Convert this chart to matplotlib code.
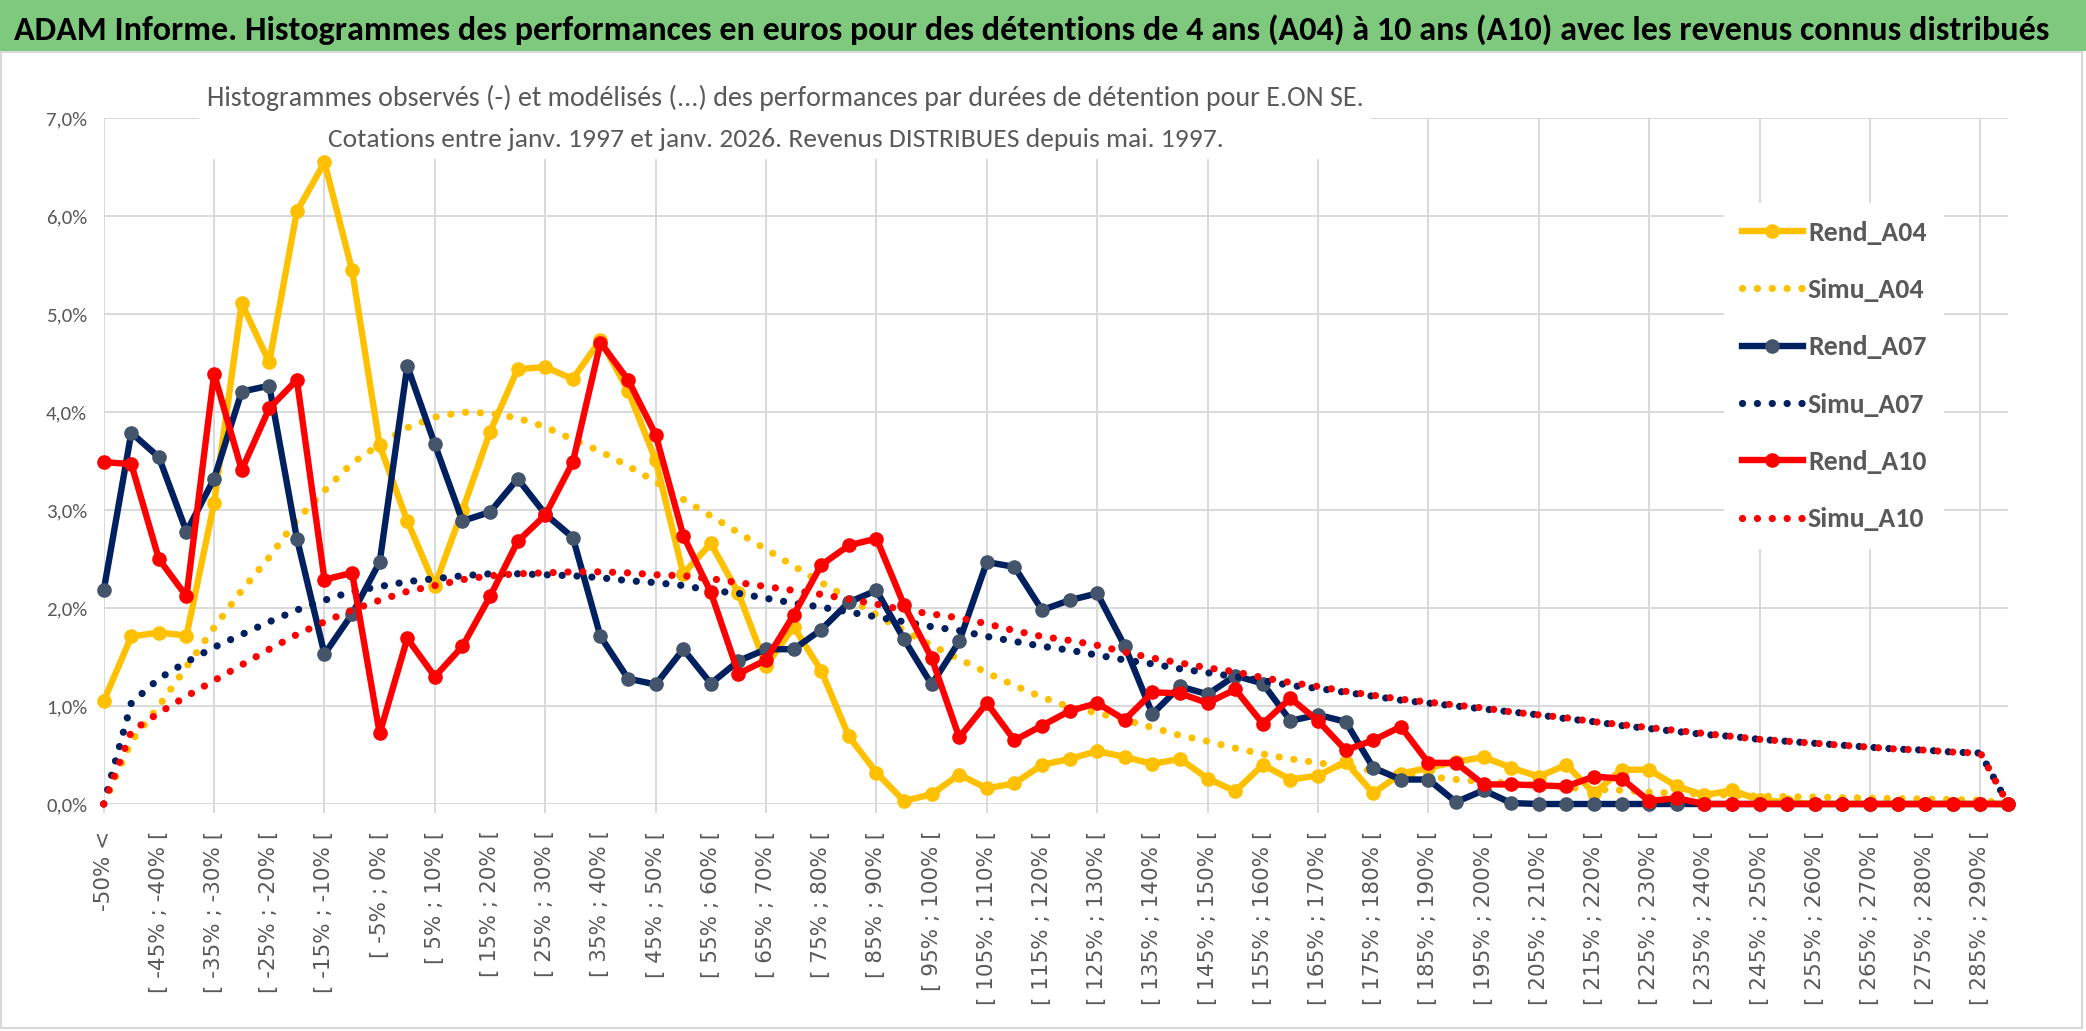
import numpy as np
import matplotlib
matplotlib.use("Agg")
import matplotlib.pyplot as plt
from matplotlib import font_manager
from matplotlib.patches import Rectangle


# categories : -50% < puis tranches de 5%
cats = ["-50% <"] + ["[ %d%% ; %d%% [" % (a, a + 5) for a in range(-50, 295, 5)]

# valeurs en %
rend_a04 = [1.05, 1.71, 1.75, 1.72, 3.07, 5.11, 4.51, 6.05, 6.55, 5.45,
            3.66, 2.89, 2.23, 3.00, 3.80, 4.44, 4.46, 4.34, 4.74, 4.22,
            3.51, 2.35, 2.66, 2.15, 1.41, 1.81, 1.36, 0.69, 0.32, 0.03,
            0.10, 0.30, 0.16, 0.21, 0.40, 0.46, 0.54, 0.48, 0.41, 0.46,
            0.26, 0.13, 0.40, 0.25, 0.29, 0.43, 0.11, 0.31, 0.37, 0.43,
            0.48, 0.37, 0.28, 0.40, 0.11, 0.35, 0.35, 0.18, 0.09, 0.14,
            0.04, 0.02, 0.00, 0.00, 0.00, 0.00, 0.00, 0.00, 0.00, 0.00]

simu_a04 = [0.00, 0.64, 1.00, 1.40, 1.80, 2.18, 2.52, 2.90, 3.20, 3.48,
            3.67, 3.84, 3.95, 4.00, 3.99, 3.94, 3.85, 3.72, 3.60, 3.45,
            3.29, 3.11, 2.94, 2.77, 2.60, 2.43, 2.26, 2.10, 1.93, 1.77,
            1.62, 1.48, 1.34, 1.21, 1.09, 0.99, 0.93, 0.86, 0.78, 0.70,
            0.64, 0.57, 0.51, 0.46, 0.42, 0.38, 0.34, 0.31, 0.28, 0.25,
            0.23, 0.21, 0.19, 0.17, 0.15, 0.14, 0.12, 0.11, 0.10, 0.09,
            0.08, 0.075, 0.07, 0.065, 0.06, 0.055, 0.05, 0.045, 0.04, 0.00]

rend_a07 = [2.18, 3.79, 3.54, 2.78, 3.32, 4.21, 4.27, 2.71, 1.53, 1.94,
            2.47, 4.47, 3.67, 2.89, 2.98, 3.32, 2.96, 2.72, 1.71, 1.28,
            1.22, 1.58, 1.23, 1.46, 1.58, 1.58, 1.78, 2.06, 2.18, 1.68,
            1.22, 1.66, 2.47, 2.42, 1.98, 2.08, 2.15, 1.61, 0.92, 1.20,
            1.12, 1.31, 1.23, 0.85, 0.91, 0.84, 0.37, 0.25, 0.25, 0.02,
            0.14, 0.01, 0.00, 0.00, 0.00, 0.00, 0.00, 0.00, 0.00, 0.00,
            0.00, 0.00, 0.00, 0.00, 0.00, 0.00, 0.00, 0.00, 0.00, 0.00]

simu_a07 = [0.00, 1.03, 1.28, 1.45, 1.60, 1.73, 1.86, 1.98, 2.08, 2.17,
            2.22, 2.27, 2.30, 2.33, 2.35, 2.35, 2.34, 2.33, 2.31, 2.28,
            2.26, 2.23, 2.18, 2.15, 2.10, 2.05, 2.01, 1.96, 1.91, 1.86,
            1.81, 1.77, 1.71, 1.66, 1.61, 1.57, 1.52, 1.47, 1.43, 1.38,
            1.34, 1.30, 1.26, 1.21, 1.18, 1.14, 1.10, 1.06, 1.03, 1.00,
            0.97, 0.94, 0.91, 0.87, 0.84, 0.80, 0.77, 0.74, 0.71, 0.69,
            0.66, 0.64, 0.62, 0.60, 0.58, 0.56, 0.55, 0.53, 0.52, 0.00]

rend_a10 = [3.49, 3.47, 2.50, 2.12, 4.39, 3.41, 4.04, 4.33, 2.29, 2.36,
            0.72, 1.69, 1.30, 1.61, 2.12, 2.68, 2.95, 3.49, 4.71, 4.33,
            3.77, 2.74, 2.16, 1.33, 1.47, 1.93, 2.44, 2.64, 2.71, 2.03,
            1.49, 0.68, 1.03, 0.65, 0.80, 0.95, 1.03, 0.86, 1.14, 1.13,
            1.03, 1.17, 0.82, 1.08, 0.85, 0.55, 0.65, 0.79, 0.42, 0.42,
            0.20, 0.20, 0.19, 0.18, 0.28, 0.26, 0.03, 0.06, 0.00, 0.00,
            0.00, 0.00, 0.00, 0.00, 0.00, 0.00, 0.00, 0.00, 0.00, 0.00]

simu_a10 = [0.00, 0.74, 0.93, 1.10, 1.26, 1.42, 1.58, 1.73, 1.86, 1.98,
            2.08, 2.17, 2.23, 2.29, 2.33, 2.35, 2.36, 2.37, 2.37, 2.36,
            2.34, 2.33, 2.30, 2.26, 2.22, 2.18, 2.14, 2.09, 2.04, 1.98,
            1.94, 1.90, 1.84, 1.77, 1.71, 1.67, 1.62, 1.55, 1.49, 1.44,
            1.39, 1.35, 1.29, 1.24, 1.20, 1.15, 1.11, 1.07, 1.04, 1.01,
            0.98, 0.94, 0.91, 0.88, 0.84, 0.81, 0.78, 0.75, 0.72, 0.69,
            0.66, 0.64, 0.62, 0.60, 0.58, 0.56, 0.55, 0.53, 0.52, 0.00]

yticks = [0, 1, 2, 3, 4, 5, 6, 7]

titre = ("ADAM Informe. Histogrammes des performances en euros pour des détentions "
         "de 4 ans (A04) à 10 ans (A10) avec les revenus connus distribués")
sous_titre_1 = ("Histogrammes observés (-) et modélisés (...) des performances par durées "
                "de détention pour E.ON SE.")
sous_titre_2 = "Cotations entre janv. 1997 et janv. 2026. Revenus DISTRIBUES depuis mai. 1997."

JAUNE = "#FFC000"
BLEU = "#002060"
BLEU_MK = "#44546A"
ROUGE = "#FF0000"
GRIS = "#595959"
GRILLE = "#D9D9D9"

LW = 4.6       # traits pleins
MS = 9.5       # marqueurs
LW_DOT = 5.2   # pointilles
DOTS = (0, (0.01, 2.05))


def pick_font(cands):
    names = {f.name for f in font_manager.fontManager.ttflist}
    for c in cands:
        if c in names:
            return c
    return "DejaVu Sans"


narrow = pick_font(["Carlito", "Lato", "Open Sans"])

W, H = 2086, 1031
fig = plt.figure(figsize=(W / 100, H / 100), dpi=100)
fig.patch.set_facecolor("white")

# bandeau vert + cadre
fig.patches.append(Rectangle((0, 1 - 51 / H), 1, 51 / H, transform=fig.transFigure,
                             facecolor="#7FC97E", edgecolor="none", zorder=0))
fig.patches.append(Rectangle((1 / W, 3 / H), 1 - 5 / W, 1 - 55 / H, transform=fig.transFigure,
                             facecolor="none", edgecolor=GRILLE, lw=1.5, zorder=0))

ax = fig.add_axes([103.7 / W, 1 - 804 / H, (2008 - 103.7) / W, (804 - 118.3) / H])
x = np.arange(len(cats))

ax.plot(x, rend_a04, color=JAUNE, lw=LW, marker="o", ms=MS, mfc=JAUNE, mec=JAUNE,
        label="Rend_A04", clip_on=False, solid_joinstyle="round", zorder=3)
ax.plot(x, simu_a04, color=JAUNE, lw=LW_DOT, ls=DOTS, dash_capstyle="round",
        label="Simu_A04", clip_on=False, zorder=3)
ax.plot(x, rend_a07, color=BLEU, lw=LW, marker="o", ms=MS, mfc=BLEU_MK, mec=BLEU_MK,
        label="Rend_A07", clip_on=False, solid_joinstyle="round", zorder=3)
ax.plot(x, simu_a07, color=BLEU, lw=LW_DOT, ls=DOTS, dash_capstyle="round",
        label="Simu_A07", clip_on=False, zorder=3)
ax.plot(x, rend_a10, color=ROUGE, lw=LW, marker="o", ms=MS, mfc=ROUGE, mec=ROUGE,
        label="Rend_A10", clip_on=False, solid_joinstyle="round", zorder=3)
ax.plot(x, simu_a10, color=ROUGE, lw=LW_DOT, ls=DOTS, dash_capstyle="round",
        label="Simu_A10", clip_on=False, zorder=3)

ax.set_xlim(0, len(cats) - 1)
ax.set_ylim(0, 7)
for s in ax.spines.values():
    s.set_visible(False)
ax.set_axisbelow(True)

# axe x : libelles une categorie sur deux, grille toutes les 4
ax.xaxis.remove_overlapping_locs = False
ax.set_xticks(x[::2])
ax.set_xticklabels(cats[::2], rotation=90, fontsize=15.5, color=GRIS, family="DejaVu Sans")
ax.set_xticks(x[::4], minor=True)
ax.tick_params(axis="x", which="major", length=0, pad=19)
ax.tick_params(axis="x", which="minor", length=6.5, width=1.4, color=GRILLE)
ax.xaxis.grid(True, which="minor", color=GRILLE, lw=1.4)

ax.set_yticks(yticks)
ax.set_yticklabels([("%.1f%%" % v).replace(".", ",") for v in yticks],
                   fontsize=15, color=GRIS, family=narrow)
ax.tick_params(axis="y", length=0, pad=12)
ax.yaxis.grid(True, color=GRILLE, lw=1.4)

# zone blanche du sous-titre
ax.add_patch(Rectangle((199 / W, 1 - 159 / H), (1370 - 199) / W, 95 / H,
                       transform=fig.transFigure, facecolor="white", edgecolor="none",
                       clip_on=False, zorder=1))

leg = ax.legend(loc="upper left", bbox_to_anchor=(1724 / W, 1 - 203 / H),
                bbox_transform=fig.transFigure, borderaxespad=0, borderpad=0.64,
                labelspacing=1.2, handlelength=2.2, handletextpad=0.18,
                frameon=True, fancybox=False, numpoints=1,
                prop={"family": narrow, "weight": "semibold", "size": 20})
leg.get_frame().set_facecolor("white")
leg.get_frame().set_edgecolor("none")
leg.get_frame().set_alpha(1)
for t in leg.get_texts():
    t.set_color(GRIS)

# titres
t0 = fig.text(1032 / W, 1 - 40 / H, titre, ha="center", va="baseline", fontsize=24,
              fontweight="bold", color="black", family=narrow)
t1 = fig.text(785 / W, 1 - 105.7 / H, sous_titre_1, ha="center", va="baseline",
              fontsize=18, fontweight="medium", color=GRIS, family=narrow)
t2 = fig.text(776 / W, 1 - 147.3 / H, sous_titre_2, ha="center", va="baseline",
              fontsize=18, fontweight="medium", color=GRIS, family=narrow)

renderer = fig.canvas.get_renderer()
for t, w in [(t0, 2032), (t1, 1156), (t2, 893)]:
    bb = t.get_window_extent(renderer=renderer)
    t.set_fontsize(t.get_fontsize() * w / bb.width)

fig.savefig("out.png", dpi=100)
